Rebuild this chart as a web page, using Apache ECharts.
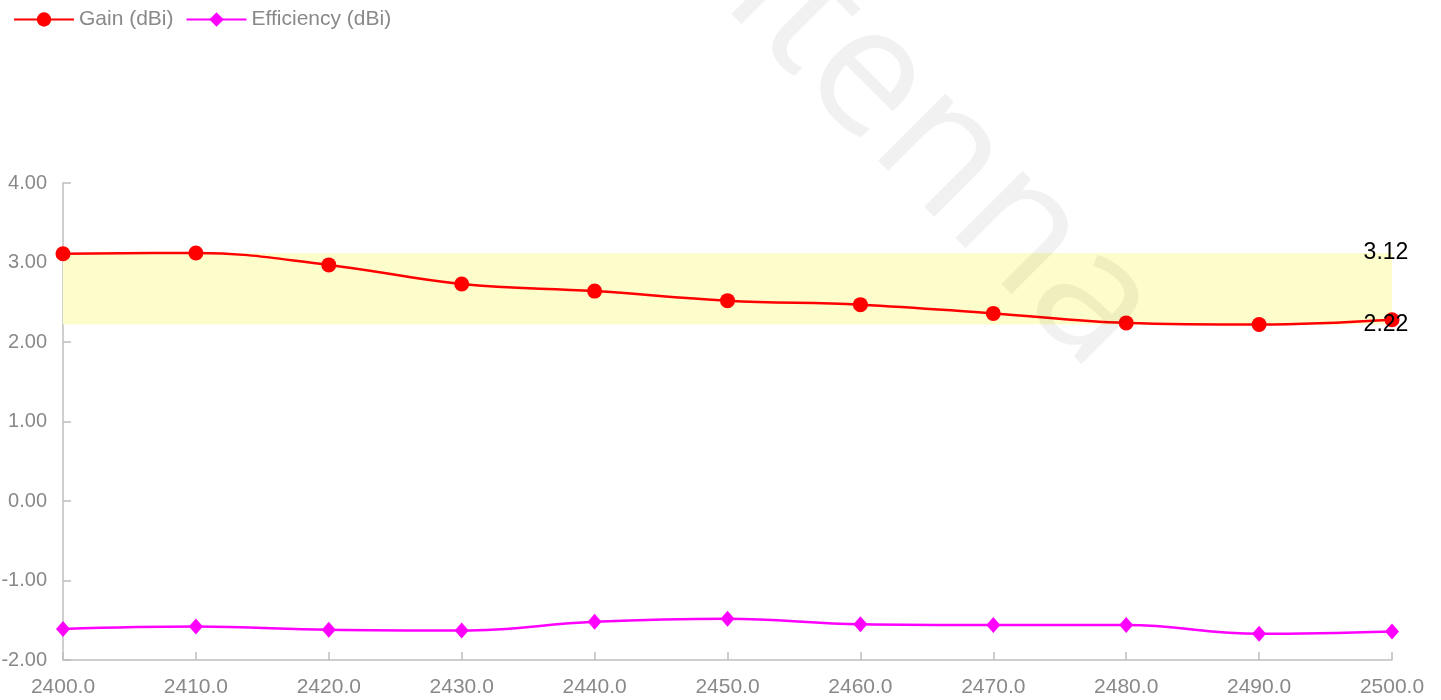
<!DOCTYPE html>
<html lang="en">
  <head>
    <meta charset="UTF-8" />
    <title>Gain / Efficiency</title>
    <script src="https://cdn.jsdelivr.net/npm/echarts@6/dist/echarts.min.js"></script>
    <style>
      html, body { margin: 0; padding: 0; background: #fff; }
      .box { width: 1441px; height: 700px; }
    </style>
  </head>
  <body>
    <div class="box"></div>
    <script>
      // data
      var freqs = [2400, 2410, 2420, 2430, 2440, 2450, 2460, 2470, 2480, 2490, 2500];
      var gain = [3.11, 3.12, 2.97, 2.73, 2.64, 2.52, 2.47, 2.36, 2.24, 2.22, 2.28];
      var efficiency = [-1.61, -1.58, -1.62, -1.63, -1.52, -1.48, -1.55, -1.56, -1.56, -1.67, -1.64];
      var seriesNames = ["Gain (dBi)", "Efficiency (dBi)"];

      var gainMax = Math.max.apply(null, gain);
      var gainMin = Math.min.apply(null, gain);

      function pairs(ys) {
        var out = [];
        for (var i = 0; i < freqs.length; i++) out.push([freqs[i], ys[i]]);
        return out;
      }

      var box = document.getElementsByClassName("box")[0];
      var chart = echarts.init(box);
      var labelGrey = "#898989";
      var axisGrey = "#bfbfbf";

      chart.setOption({
        animation: false,
        textStyle: { fontFamily: "Liberation Sans, Arial, sans-serif" },
        legend: {
          left: 8,
          top: 4,
          itemWidth: 60,
          itemHeight: 18,
          itemGap: 12,
          textStyle: { color: labelGrey, fontSize: 21 },
          data: seriesNames,
        },
        grid: { left: 63, right: 49, top: 183, bottom: 40, containLabel: false, outerBoundsMode: "none" },
        xAxis: {
          type: "value",
          min: 2400,
          max: 2500,
          interval: 10,
          axisLine: { onZero: false, lineStyle: { color: axisGrey, width: 1.5 } },
          axisTick: { inside: true, length: 8, lineStyle: { color: axisGrey, width: 1.5 } },
          axisLabel: {
            color: labelGrey,
            fontSize: 21,
            margin: 17,
            showMaxLabel: true,
            formatter: function (v) { return v.toFixed(1); },
          },
          splitLine: { show: false },
        },
        yAxis: {
          type: "value",
          min: -2,
          max: 4,
          interval: 1,
          axisLine: { show: true, lineStyle: { color: axisGrey, width: 1.5 } },
          axisTick: { show: true, inside: true, length: 8, lineStyle: { color: axisGrey, width: 1.5 } },
          axisLabel: {
            color: labelGrey,
            fontSize: 20,
            margin: 16,
            formatter: function (v) { return v.toFixed(2); },
          },
          splitLine: { show: false },
        },
        series: [
          {
            name: seriesNames[0],
            type: "line",
            smooth: 0.4,
            data: pairs(gain),
            symbol: "circle",
            symbolSize: 15,
            lineStyle: { color: "#ff0000", width: 2.5 },
            itemStyle: { color: "#ff0000" },
            z: 3,
            markArea: {
              silent: true,
              itemStyle: { color: "#fdfccb" },
              data: [[{ xAxis: 2400, yAxis: gainMin }, { xAxis: 2500, yAxis: gainMax }]],
            },
            markPoint: {
              silent: true,
              symbol: "circle",
              symbolSize: 0,
              label: {
                show: true,
                position: "inside",
                offset: [-6, 0],
                color: "#000",
                fontSize: 23,
                formatter: function (p) { return p.value.toFixed(2); },
              },
              data: [
                { coord: [2500, gainMax], value: gainMax },
                { coord: [2500, gainMin], value: gainMin },
              ],
            },
          },
          {
            name: seriesNames[1],
            type: "line",
            smooth: 0.4,
            data: pairs(efficiency),
            symbol: "diamond",
            symbolSize: [14, 16],
            lineStyle: { color: "#ff00ff", width: 2.5 },
            itemStyle: { color: "#ff00ff" },
            z: 3,
          },
        ],
        graphic: [
          {
            type: "text",
            x: 884,
            y: 95,
            rotation: -Math.PI / 4,
            z: 100,
            silent: true,
            style: {
              text: "antenna",
              fontSize: 178,
              fontFamily: "Open Sans, Noto Sans, sans-serif",
              fill: "rgba(0,0,0,0.055)",
              textAlign: "center",
              textVerticalAlign: "middle",
            },
          },
        ],
      });
    </script>
  </body>
</html>
